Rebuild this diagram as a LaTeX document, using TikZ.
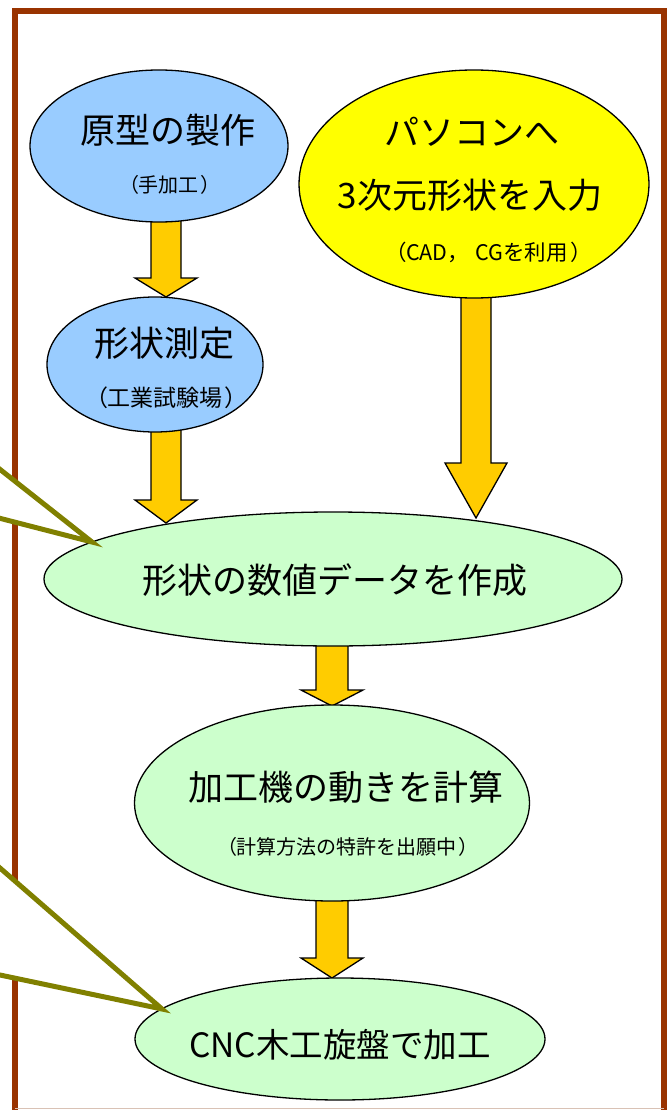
\documentclass[tikz,border=0pt]{standalone}
\usepackage{fontspec}
\newfontfamily\jp{Noto Sans CJK JP}
\usetikzlibrary{shapes.geometric,calc}
\definecolor{bluefill}{HTML}{99CCFF}
\definecolor{yellowfill}{HTML}{FFFF00}
\definecolor{greenfill}{HTML}{CCFFCC}
\definecolor{arrowfill}{HTML}{FFCC00}
\definecolor{framebrown}{HTML}{993300}
\definecolor{calloutolive}{HTML}{808000}
\definecolor{bottomline}{HTML}{D9C2B5}
\newcommand\blockarrow[4]{% from, to, head length, shaft half width
  \draw[blockarr] let \p1=(#1), \p2=(#2) in
    (\x1-#4pt,\y1) -- (\x1+#4pt,\y1) -- (\x1+#4pt,\y2+#3pt) -- (\x2+31pt,\y2+#3pt)
    -- (\x2,\y2) -- (\x2-31pt,\y2+#3pt) -- (\x1-#4pt,\y2+#3pt) -- cycle;}
\newcommand\lp{\makebox[0.85em][l]{\hspace{-0.1em}（}}
\newcommand\rp{\makebox[0.85em][l]{\hspace{0.1em}）}}
\newcommand\fc{\makebox[1em][l]{，}}
\begin{document}
\begin{tikzpicture}[x=1pt,y=-1pt,
  oval/.style={ellipse, draw=black, line width=1.3pt, inner sep=0pt},
  blockarr/.style={fill=arrowfill, draw=black, line width=1.3pt, line join=miter},
  callout/.style={draw=calloutolive, fill=white, line width=5pt, line join=miter},
  frameline/.style={draw=framebrown, line width=6.5pt, line join=miter},
  bigtxt/.style={font=\jp\fontsize{35pt}{38pt}\selectfont, inner sep=0pt},
  midtxt/.style={font=\jp\fontsize{20pt}{24pt}\selectfont, inner sep=0pt}]
\useasboundingbox (0,0) rectangle (669,1110);
\clip (0,0) rectangle (669,1110);
% frame
\draw[frameline] (15,1120) -- (15,11) -- (664,11) -- (664,1120);
\draw[bottomline, line width=1.5pt] (15,1108.5) -- (664,1108.5);
% arrow anchor points
\coordinate (a1top) at (166,210);
\coordinate (a1tip) at (166,297);
\coordinate (a2top) at (166,420);
\coordinate (a2tip) at (166,523);
\coordinate (a3top) at (476,285);
\coordinate (a3tip) at (476,518);
\coordinate (a4top) at (332,635);
\coordinate (a4tip) at (332,706);
\coordinate (a5top) at (332,890);
\coordinate (a5tip) at (332,978);
\blockarrow{a1top}{a1tip}{19}{15}
\blockarrow{a2top}{a2tip}{23}{15}
\blockarrow{a3top}{a3tip}{55}{15}
\blockarrow{a4top}{a4tip}{16}{16}
\blockarrow{a5top}{a5tip}{20}{16}
% ellipses
\node[oval, fill=bluefill, minimum width=258pt, minimum height=152pt] (b1) at (159,146) {};
\node[oval, fill=yellowfill, minimum width=350pt, minimum height=228pt] (y1) at (474,184) {};
\node[oval, fill=bluefill, minimum width=216pt, minimum height=135pt] (b2) at (155,364.5) {};
\node[oval, fill=greenfill, minimum width=578pt, minimum height=134pt] (g3) at (333,579) {};
\node[oval, fill=greenfill, minimum width=395pt, minimum height=196pt] (g4) at (332,803) {};
\node[oval, fill=greenfill, minimum width=410pt, minimum height=122pt] (g5) at (340,1039) {};
% texts
\node[bigtxt] (t1) at (168,130) {原型の製作};
\node[midtxt, font=\jp\fontsize{20pt}{24pt}\selectfont] (t1s) at (168,185) {\lp 手加工\rp};
\node[bigtxt] (t2) at (164,343) {形状測定};
\node[midtxt, font=\jp\fontsize{23pt}{24pt}\selectfont] (t2s) at (165,398) {\lp 工業試験場\rp};
\node[bigtxt] (t3) at (472,132) {パソコンへ};
\node[bigtxt] (t3b) at (470,195) {3次元形状を入力};
\node[midtxt, font=\jp\fontsize{21.5pt}{24pt}\selectfont] (t3s) at (487,252) {\lp CAD\fc\hspace{0.3em}CGを利用\rp};
\node[bigtxt] (t4) at (335,580) {形状の数値データを作成};
\node[bigtxt] (t5) at (346,787) {加工機の動きを計算};
\node[midtxt, font=\jp\fontsize{20pt}{24pt}\selectfont] (t5s) at (346,847) {\lp 計算方法の特許を出願中\rp};
\node[bigtxt, font=\jp\fontsize{33.5pt}{38pt}\selectfont] (t6) at (340,1045) {CNC木工旋盤で加工};
% callout pointers
\coordinate (c1a) at (-30,445.7);
\coordinate (c1tip) at (92,542);
\coordinate (c1b) at (-30,510.6);
\draw[callout] (c1a) -- (c1tip) -- (c1b) -- cycle;
\coordinate (c2a) at (-30,841.9);
\coordinate (c2tip) at (162,1009);
\coordinate (c2b) at (-30,968.7);
\draw[callout] (c2a) -- (c2tip) -- (c2b) -- cycle;
\end{tikzpicture}
\end{document}
